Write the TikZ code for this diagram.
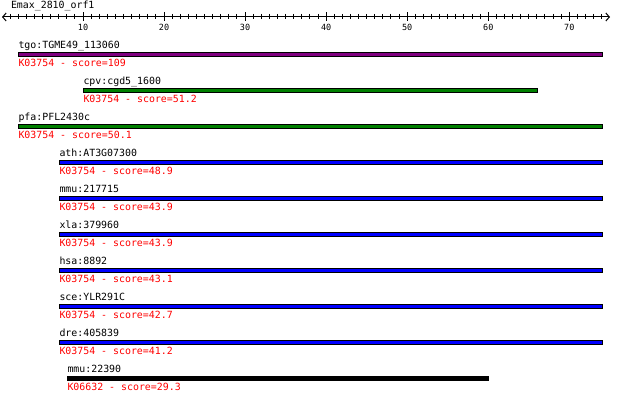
\documentclass[tikz,border=0pt]{standalone}
\usepackage{fontspec}
\setmonofont{DejaVu Sans Mono}
\usetikzlibrary{arrows.meta,positioning}
\definecolor{hitpurple}{HTML}{800080}
\definecolor{hitgreen}{HTML}{008000}
\definecolor{hitblue}{HTML}{0000FF}

\begin{document}
\begin{tikzpicture}[x=1pt,y=-1pt,line width=1pt,
  every node/.style={inner sep=0pt},
  bar/.style={draw=black,fill=#1,rectangle,minimum height=4pt,anchor=west},
  gene/.style={anchor=base west,font=\ttfamily\fontsize{9.9}{12}\selectfont},
  hit/.style={gene,text=red},
  scalelabel/.style={anchor=base,font=\ttfamily\fontsize{8.5}{10}\selectfont}]

\useasboundingbox (0,0) rectangle (620,401);

\node[gene] (title) at (10.5,9) {Emax\_2810\_orf1};

\coordinate (rl) at (2,17);
\coordinate (rr) at (610,17);
\draw[{Straight Barb[length=3.5pt,width=8pt]}-{Straight Barb[length=3.5pt,width=8pt]}] (rl) -- (rr);
\foreach \i in {1,...,74}
  \draw (1.95+8.105*\i,14) -- (1.95+8.105*\i,19.5);
\foreach \v in {10,20,...,70}{
  \draw (1.95+8.105*\v,12.5) -- (1.95+8.105*\v,21.5);
  \node[scalelabel] (tick\v) at (1.95+8.105*\v,30.5) {\v};
}

\node[gene] (tgo)  at (18,48.3)  {tgo:TGME49\_113060};
\node[bar=hitpurple,minimum width=584pt] (tgob) at (18,54.3) {};
\node[hit]  (tgoh) at (18,66.6)  {K03754 - score=109};

\node[gene] (cpv)  at (83,84.3)  {cpv:cgd5\_1600};
\node[bar=hitgreen,minimum width=454pt] (cpvb) at (83,90.3) {};
\node[hit]  (cpvh) at (83,102.6) {K03754 - score=51.2};

\node[gene] (pfa)  at (18,120.3) {pfa:PFL2430c};
\node[bar=hitgreen,minimum width=584pt] (pfab) at (18,126.3) {};
\node[hit]  (pfah) at (18,138.6) {K03754 - score=50.1};

\node[gene] (ath)  at (59,156.3) {ath:AT3G07300};
\node[bar=hitblue,minimum width=543pt] (athb) at (59,162.3) {};
\node[hit]  (athh) at (59,174.6) {K03754 - score=48.9};

\node[gene] (mmua) at (59,192.3) {mmu:217715};
\node[bar=hitblue,minimum width=543pt] (mmuab) at (59,198.3) {};
\node[hit]  (mmuah) at (59,210.6) {K03754 - score=43.9};

\node[gene] (xla)  at (59,228.3) {xla:379960};
\node[bar=hitblue,minimum width=543pt] (xlab) at (59,234.3) {};
\node[hit]  (xlah) at (59,246.6) {K03754 - score=43.9};

\node[gene] (hsa)  at (59,264.3) {hsa:8892};
\node[bar=hitblue,minimum width=543pt] (hsab) at (59,270.3) {};
\node[hit]  (hsah) at (59,282.6) {K03754 - score=43.1};

\node[gene] (sce)  at (59,300.3) {sce:YLR291C};
\node[bar=hitblue,minimum width=543pt] (sceb) at (59,306.3) {};
\node[hit]  (sceh) at (59,318.6) {K03754 - score=42.7};

\node[gene] (dre)  at (59,336.3) {dre:405839};
\node[bar=hitblue,minimum width=543pt] (dreb) at (59,342.3) {};
\node[hit]  (dreh) at (59,354.6) {K03754 - score=41.2};

\node[gene] (mmub) at (67,372.3) {mmu:22390};
\node[bar=black,minimum width=421pt] (mmubb) at (67,378.3) {};
\node[hit]  (mmubh) at (67,390.6) {K06632 - score=29.3};

\end{tikzpicture}
\end{document}
